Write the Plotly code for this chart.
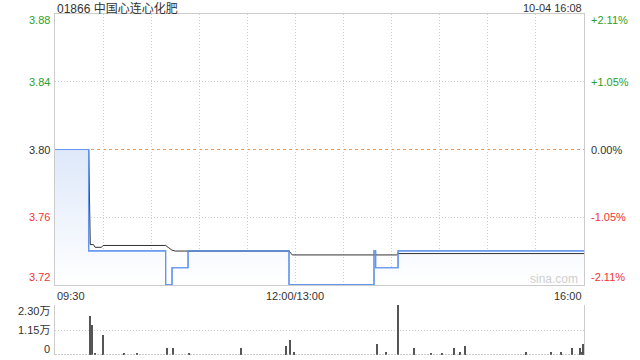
import plotly.graph_objects as go

# ---------------- data ----------------
title_text = "01866 中国心连心化肥"
stamp_text = "10-04 16:08"
prev_close = 3.80

# price (blue) change points: minute index since 09:30 (lunch break removed), price
price_min = [0, 21, 69, 73, 83, 146, 199, 200, 214, 330]
price_val = [3.80, 3.74, 3.72, 3.73, 3.74, 3.72, 3.74, 3.73, 3.74, 3.74]

# average price (black)
avg_min = [0, 21, 22, 24, 25, 29, 30, 69, 71, 73, 75, 146, 148, 213, 214, 330]
avg_val = [3.80, 3.80, 3.7437, 3.7437, 3.7421, 3.7421, 3.7432, 3.7432, 3.7418, 3.7404,
           3.7399, 3.7399, 3.7376, 3.7376, 3.7384, 3.7384]

# volume bars
vol_min = [22, 23, 25, 30, 43, 51, 70, 74, 84, 116, 144, 147, 149, 201, 207, 214, 224,
           235, 242, 249, 253, 256, 294, 310, 316, 323, 328, 329, 330]
vol_val = [18100, 13700, 800, 9300, 800, 600, 3000, 3000, 700, 3200, 4100, 6900, 1600,
           5100, 1600, 23000, 3200, 700, 700, 3000, 1600, 4100, 1600, 1600, 1600, 3000,
           3000, 1600, 5100]

price_ticks = [3.88, 3.84, 3.80, 3.76, 3.72]
pct_ticks = ["+2.11%", "+1.05%", "0.00%", "-1.05%", "-2.11%"]
vol_ticks = [23000, 11500, 0]
vol_tick_text = ["2.30万", "1.15万", "0"]
time_labels = ["09:30", "12:00/13:00", "16:00"]
time_pos = [0, 150, 330]

# ---------------- layout constants ----------------
W, H = 640, 360
ML, MR, MT, MB = 55, 56, 14, 5
PW, PH = W - ML - MR, H - MT - MB
Y_MAIN_TOP, Y_MAIN_BOT = 14, 285
Y_VOL_TOP, Y_VOL_BOT = 305, 355
YMIN, YMAX = 3.7198, 3.8802

GREEN = "#2a9f2a"
RED = "#f03333"
DARK = "#333333"
GRID = "#cfcfcf"
GRID_DASH = "1px,2px"
FONT = "Arial, Liberation Sans, Noto Sans CJK SC, sans-serif"


def px_x(px):
    return (px - ML) / PW


def px_y(py):
    return (H - MB - py) / PH


fig = go.Figure()

# price line with gradient fill
fig.add_trace(go.Scatter(
    x=price_min, y=price_val, mode="lines", line=dict(color="#6396ee", width=1.2, shape="hv"),
    fill="tozeroy",
    fillgradient=dict(type="vertical", start=YMIN, stop=prev_close,
                      colorscale=[[0, "rgba(255,255,255,1)"], [1, "rgba(222,232,250,1)"]]),
    xaxis="x", yaxis="y", hoverinfo="skip", showlegend=False))

# average price line
fig.add_trace(go.Scatter(
    x=avg_min, y=avg_val, mode="lines", line=dict(color="#333333", width=1),
    xaxis="x", yaxis="y", hoverinfo="skip", showlegend=False))

# redraw price line on top (no fill)
fig.add_trace(go.Scatter(
    x=price_min, y=price_val, mode="lines", line=dict(color="#6396ee", width=1.2, shape="hv"),
    xaxis="x", yaxis="y", hoverinfo="skip", showlegend=False))

# volume
fig.add_trace(go.Bar(
    x=vol_min, y=vol_val, width=0.65, marker=dict(color="#555555", line=dict(width=0)),
    xaxis="x2", yaxis="y2", hoverinfo="skip", showlegend=False))

main_dom = [px_y(Y_MAIN_BOT), px_y(Y_MAIN_TOP)]
vol_dom = [px_y(Y_VOL_BOT), px_y(Y_VOL_TOP)]

fig.update_layout(
    width=W, height=H, margin=dict(l=ML, r=MR, t=MT, b=MB),
    paper_bgcolor="white", plot_bgcolor="white",
    font=dict(family=FONT, size=11, color=DARK),
    bargap=0,
    xaxis=dict(domain=[0, 1], range=[0, 330], anchor="y",
               tickvals=list(range(0, 331, 30)), showticklabels=False, ticks="",
               showgrid=True, gridcolor=GRID, griddash=GRID_DASH, gridwidth=1,
               showline=True, mirror=True, linecolor="#cccccc", linewidth=1, zeroline=False),
    yaxis=dict(domain=main_dom, range=[YMIN, YMAX], anchor="x",
               tickvals=[3.84, 3.76], showticklabels=False, ticks="",
               showgrid=True, gridcolor=GRID, griddash=GRID_DASH, gridwidth=1,
               showline=True, mirror=True, linecolor="#cccccc", linewidth=1, zeroline=False),
    xaxis2=dict(domain=[0, 1], range=[0, 330.4], anchor="y2", showticklabels=False,
                ticks="", showgrid=False, showline=False, zeroline=False),
    yaxis2=dict(domain=vol_dom, range=[0, 23000], anchor="x2",
                tickvals=[11500, 23000], showticklabels=False, ticks="",
                showgrid=True, gridcolor=GRID, griddash=GRID_DASH, gridwidth=1,
                showline=True, mirror=True, linecolor="#cccccc", linewidth=1, zeroline=False),
)

# previous close dashed line
fig.add_shape(type="line", xref="x", yref="y", x0=0, x1=330, y0=prev_close, y1=prev_close,
              line=dict(color="#f39a5a", width=1, dash="3px,3px"), layer="below")
# volume base dotted line
fig.add_shape(type="line", xref="x2", yref="y2", x0=0, x1=330, y0=0, y1=0,
              line=dict(color="#999999", width=1, dash="2px,1px"))

annotations = []
# header
annotations.append(dict(text=title_text, x=px_x(55), y=px_y(8), xref="paper", yref="paper",
                        xanchor="left", yanchor="middle", showarrow=False,
                        font=dict(size=12, color=DARK)))
annotations.append(dict(text=stamp_text, x=px_x(584), y=px_y(8), xref="paper", yref="paper",
                        xanchor="right", yanchor="middle", showarrow=False,
                        font=dict(size=11, color=DARK)))

# price axis labels
label_colors = [GREEN, GREEN, DARK, RED, RED]
for i, (p, pct) in enumerate(zip(price_ticks, pct_ticks)):
    ypix = Y_MAIN_TOP + (YMAX - p) / (YMAX - YMIN) * (Y_MAIN_BOT - Y_MAIN_TOP)
    ypix = min(max(ypix, 20.5), 276.5)
    annotations.append(dict(text=f"{p:.2f}", x=px_x(52), y=px_y(ypix), xref="paper", yref="paper",
                            xanchor="right", yanchor="middle", showarrow=False,
                            font=dict(size=11, color=label_colors[i])))
    annotations.append(dict(text=pct, x=px_x(589), y=px_y(ypix), xref="paper", yref="paper",
                            xanchor="left", yanchor="middle", showarrow=False,
                            font=dict(size=11, color=label_colors[i])))

# time labels
anchors = ["left", "center", "right"]
for t, pos, a in zip(time_labels, time_pos, anchors):
    annotations.append(dict(text=t, x=pos, y=px_y(296), xref="x", yref="paper",
                            xanchor=a, yanchor="middle", showarrow=False,
                            font=dict(size=11, color=DARK)))

# volume labels
vol_label_pix = [311, 330, 349]
for txt, ypix in zip(vol_tick_text, vol_label_pix):
    annotations.append(dict(text=txt, x=px_x(52), y=px_y(ypix), xref="paper", yref="paper",
                            xanchor="right", yanchor="middle", showarrow=False,
                            font=dict(size=11, color=DARK)))

# watermark
annotations.append(dict(text="sina.com", x=px_x(580), y=px_y(279), xref="paper", yref="paper",
                        xanchor="right", yanchor="middle", showarrow=False,
                        font=dict(size=12, color="#cfcfcf")))

fig.update_layout(annotations=annotations)

fig.write_html("out.html", config={"displayModeBar": False},
               post_script="document.body.style.margin='0';document.body.style.padding='0';")
